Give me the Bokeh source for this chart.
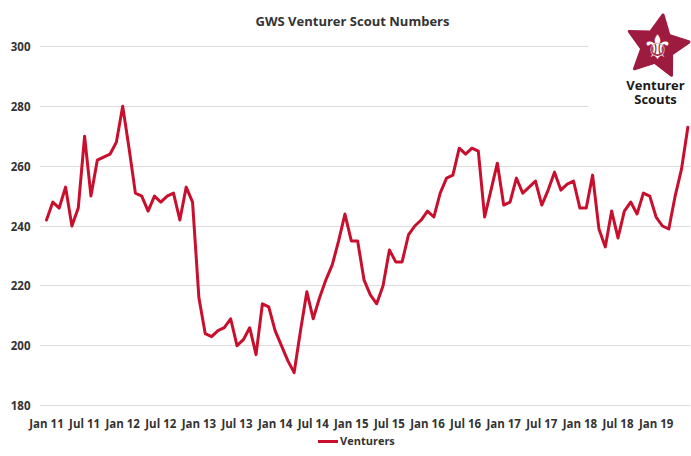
import math
from bokeh.plotting import figure
from bokeh.models import FixedTicker, Label, Legend, LegendItem, Range1d
from bokeh.embed import file_html
from bokeh.resources import INLINE

# ---- data (monthly Venturer Scout numbers, Jan 2011 - Jun 2019) ----
v2011 = [242, 248, 246, 253, 240, 246, 270, 250, 262, 263, 264, 268]
v2012 = [280, 266, 251, 250, 245, 250, 248, 250, 251, 242, 253, 248]
v2013 = [216, 204, 203, 205, 206, 209, 200, 202, 206, 197, 214, 213]
v2014 = [205, 200, 195, 191, 205, 218, 209, 216, 222, 227, 235, 244]
v2015 = [235, 235, 222, 217, 214, 220, 232, 228, 228, 237, 240, 242]
v2016 = [245, 243, 251, 256, 257, 266, 264, 266, 265, 243, 252, 261]
v2017 = [247, 248, 256, 251, 253, 255, 247, 252, 258, 252, 254, 255]
v2018 = [246, 246, 257, 239, 233, 245, 236, 245, 248, 244, 251, 250]
v2019 = [243, 240, 239, 250, 259, 273]

tick_labels = ["Jan 11", "Jul 11", "Jan 12", "Jul 12", "Jan 13", "Jul 13",
               "Jan 14", "Jul 14", "Jan 15", "Jul 15", "Jan 16", "Jul 16",
               "Jan 17", "Jul 17", "Jan 18", "Jul 18", "Jan 19"]
y_ticks = [180, 200, 220, 240, 260, 280, 300]
series_name = "Venturers"
title_text = "GWS Venturer Scout Numbers"

venturers = v2011 + v2012 + v2013 + v2014 + v2015 + v2016 + v2017 + v2018 + v2019
month_index = list(range(len(venturers)))
tick_positions = [6 * i for i in range(len(tick_labels))]

FONT = "Open Sans"
TXT = "#333333"
RED = "#c8102e"
LOGO = "#9e1b40"
GRID = "#dcdcdc"

W, H = 691, 456
BL, BR, BT, BB = 0, 1, 0, 0             # borders around the frame
FW, FH = W - BL - BR, H - BT - BB       # frame size
PLOT_LEFT = 40                          # where the gridlines start
PX_M = 6.35                             # pixels per month
X0 = -(46 - BL) / PX_M
X1 = X0 + FW / PX_M
PX_V = (405 - 46) / 120.0               # pixels per unit
Y0 = 180 - (H - 405) / PX_V
Y1 = 300 + 46 / PX_V

p = figure(width=W, height=H, output_backend="svg", toolbar_location=None,
           x_range=Range1d(X0, X1), y_range=Range1d(Y0, Y1),
           min_border_left=BL, min_border_right=BR, min_border_top=BT,
           min_border_bottom=BB)
p.outline_line_color = None
p.background_fill_color = "white"
p.border_fill_color = "white"


def sx(px):   # picture x -> data x (decorations only)
    return X0 + (px - BL) / PX_M


def sy(py):   # picture y -> data y
    return Y1 - (py - BT) / PX_V


# white strips: left margin (tick-label area) and behind the logo
p.quad(left=[sx(0)], right=[sx(PLOT_LEFT - 0.5)], bottom=[sy(H)], top=[sy(0)],
       fill_color="white", line_color=None)
p.quad(left=[sx(588)], right=[sx(W)], bottom=[sy(116)], top=[sy(0)],
       fill_color="white", line_color=None)

r = p.line(month_index, venturers, line_color=RED, line_width=3,
           line_join="round", line_cap="round")

# x axis, pinned to the 180 line
p.xaxis.fixed_location = y_ticks[0]
p.xaxis.ticker = FixedTicker(ticks=tick_positions)
p.xaxis.major_label_overrides = {pos: lab for pos, lab in zip(tick_positions, tick_labels)}
p.xaxis.axis_line_color = None
p.xaxis.major_tick_line_color = None
p.xaxis.minor_tick_line_color = None
p.xaxis.major_label_standoff = 4
p.xaxis.major_label_text_font = FONT
p.xaxis.major_label_text_font_style = "bold"
p.xaxis.major_label_text_font_size = "11.5px"
p.xaxis.major_label_text_color = TXT

# y axis, pinned to the left edge of the plot area
p.yaxis.fixed_location = sx(PLOT_LEFT)
p.yaxis.ticker = FixedTicker(ticks=y_ticks)
p.yaxis.axis_line_color = None
p.yaxis.major_tick_line_color = None
p.yaxis.minor_tick_line_color = None
p.yaxis.major_label_standoff = 4
p.yaxis.major_label_text_font = FONT
p.yaxis.major_label_text_font_style = "bold"
p.yaxis.major_label_text_font_size = "11.5px"
p.yaxis.major_label_text_color = TXT

p.xgrid.grid_line_color = None
p.ygrid.ticker = FixedTicker(ticks=y_ticks)
p.ygrid.grid_line_color = GRID
p.ygrid.grid_line_width = 1

# logo star
cx, cy, ro, ri = 657, 46, 32, 16
star_x, star_y = [], []
for k in range(10):
    ang = math.radians(80 + 36 * k)
    rad = ro if k % 2 == 0 else ri
    star_x.append(sx(cx + rad * math.cos(ang)))
    star_y.append(sy(cy - rad * math.sin(ang)))
p.patch(star_x, star_y, fill_color=LOGO, line_color=LOGO, line_width=3,
        line_join="round")


def screen_label(text, px, py, size, color=TXT, font=FONT, style="bold"):
    p.add_layout(Label(x=px - BL, y=H - BB - py, x_units="screen", y_units="screen",
                       text=text, text_align="center", text_baseline="middle",
                       text_font=font, text_font_size=size, text_font_style=style,
                       text_color=color))


screen_label(title_text, 352, 20, "13px")
screen_label("\u269c", cx, cy, "34px", color="white", font="DejaVu Sans", style="normal")
screen_label("Venturer", 655, 84, "13px", color="#1a1a1a")
screen_label("Scouts", 655, 98, "13px", color="#1a1a1a")

# legend at the bottom
legend = Legend(items=[LegendItem(label=series_name, renderers=[r])],
                location=(318 - BL, 8), orientation="horizontal",
                border_line_color=None, background_fill_alpha=0,
                padding=0, margin=0, glyph_width=20, glyph_height=12,
                label_standoff=2, label_text_font=FONT,
                label_text_font_style="bold", label_text_font_size="11px",
                label_text_color=TXT)
p.add_layout(legend)

open("out.html", "w").write(file_html(p, INLINE))
